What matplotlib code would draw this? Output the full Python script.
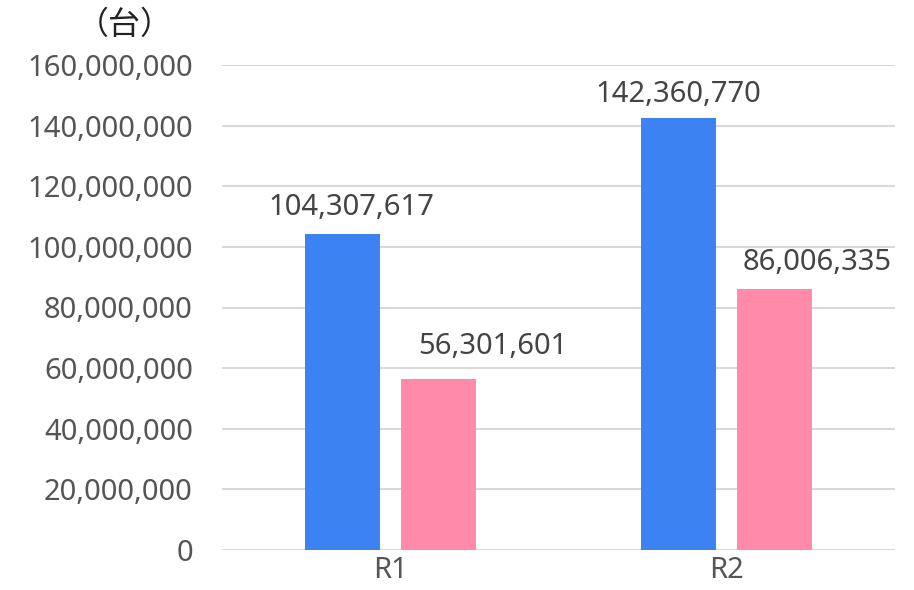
import matplotlib
matplotlib.use("Agg")
import matplotlib.pyplot as plt
import numpy as np

categories = ["R1", "R2"]
series_a = [104307617, 142360770]
series_b = [56301601, 86006335]
yticks = [0, 20000000, 40000000, 60000000, 80000000, 100000000, 120000000, 140000000, 160000000]

plt.rcParams['font.family'] = ['Noto Sans', 'Noto Sans CJK JP', 'DejaVu Sans']

fig = plt.figure(figsize=(9.14, 5.90), dpi=100)
ax = fig.add_axes([222/914, 1-550/590, (895-222)/914, (550-65)/590])

x = np.arange(len(categories))
w = 0.223
off = 0.143
ba = ax.bar(x - off, series_a, width=w, color="#3D82F2", zorder=3)
bb = ax.bar(x + off, series_b, width=w, color="#FF8AAA", zorder=3)

ax.set_xlim(-0.5, 1.5)
ax.set_ylim(0, 160000000)
ax.set_yticks(yticks)
ax.set_yticklabels([f"{v:,}" for v in yticks])
ax.set_xticks(x)
ax.set_xticklabels(categories)
ax.tick_params(axis='both', length=0, labelsize=21, colors="#555555")
ax.tick_params(axis='y', pad=21)
ax.tick_params(axis='x', pad=4)
ax.grid(axis='y', color="#D9D9D9", linewidth=1.5, zorder=0)
for s in ax.spines.values():
    s.set_visible(False)

label_offsets_a = [(6.5, 13.7), (0, 11.5)]
label_offsets_b = [(39.6, 18), (30.2, 13.7)]
for i, r in enumerate(ba):
    ax.annotate(f"{series_a[i]:,}", (r.get_x() + r.get_width()/2, r.get_height()),
                xytext=label_offsets_a[i], textcoords="offset points", ha="center", va="baseline",
                fontsize=21, color="#444444")
for i, r in enumerate(bb):
    ax.annotate(f"{series_b[i]:,}", (r.get_x() + r.get_width()/2, r.get_height()),
                xytext=label_offsets_b[i], textcoords="offset points", ha="center", va="baseline",
                fontsize=21, color="#444444")

fig.text(125/914, 1-25/590, "（台）", ha="center", va="center", fontsize=23, color="#222222",
         family=['Noto Sans CJK JP', 'DejaVu Sans'])

fig.savefig("out.png", dpi=100)
